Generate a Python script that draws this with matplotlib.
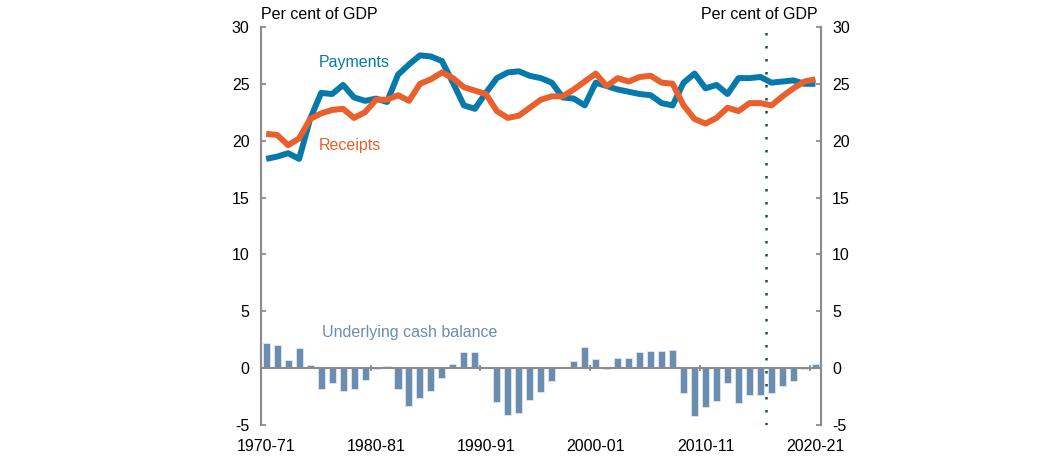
import numpy as np
import matplotlib
matplotlib.use('Agg')
import matplotlib.pyplot as plt
from matplotlib.ticker import FixedLocator, FuncFormatter

plt.rcParams['font.family'] = ['Liberation Sans', 'DejaVu Sans']

# ============================================================
# Data (per cent of GDP), 1970-71 to 2020-21
# ============================================================
years = [f"{y}-{str(y + 1)[-2:]}" for y in range(1970, 2021)]

payments = [18.4, 18.6, 18.9, 18.4, 21.9, 24.2, 24.1, 24.9, 23.8, 23.5,
            23.7, 23.4, 25.8, 26.7, 27.5, 27.4, 27.0, 25.1, 23.1, 22.8,
            24.2, 25.5, 26.0, 26.1, 25.7, 25.5, 25.1, 23.8, 23.7, 23.1,
            25.1, 24.8, 24.5, 24.3, 24.1, 24.0, 23.3, 23.1, 25.1, 25.9,
            24.6, 24.9, 24.1, 25.5, 25.5, 25.6, 25.1, 25.2, 25.3, 25.0,
            25.0]

receipts = [20.6, 20.5, 19.6, 20.2, 21.9, 22.4, 22.7, 22.8, 22.0, 22.5,
            23.6, 23.6, 24.0, 23.5, 25.0, 25.4, 26.0, 25.5, 24.7, 24.4,
            24.1, 22.6, 22.0, 22.2, 22.9, 23.6, 23.9, 23.9, 24.5, 25.2,
            25.9, 24.8, 25.5, 25.2, 25.6, 25.7, 25.1, 25.0, 23.1, 21.9,
            21.5, 22.0, 22.9, 22.6, 23.3, 23.3, 23.1, 23.9, 24.6, 25.2,
            25.4]

cash_balance = [2.2, 2.0, 0.7, 1.8, 0.3, -1.8, -1.3, -2.0, -1.8, -1.0,
                -0.1, 0.2, -1.8, -3.3, -2.6, -2.0, -0.9, 0.4, 1.4, 1.4,
                0.0, -3.0, -4.1, -3.9, -2.8, -2.1, -1.1, 0.0, 0.6, 1.9,
                0.8, -0.1, 0.9, 0.9, 1.4, 1.5, 1.5, 1.6, -2.2, -4.2,
                -3.4, -2.9, -1.3, -3.1, -2.4, -2.4, -2.2, -1.6, -1.1, -0.1,
                0.35]

label_years = ["1970-71", "1980-81", "1990-91", "2000-01", "2010-11", "2020-21"]
forecast_start = "2016-17"

# ============================================================
# Plot
# ============================================================
BLUE = "#0579a9"
ORANGE = "#e9602d"
BAR = "#6a8db0"
GREY = "#8c8c8c"
DOT = "#1f4f4b"
FS = 11.5

x = np.arange(len(years))

fig = plt.figure(figsize=(10.39, 4.61), dpi=100)
ax = fig.add_axes([0.2509, 0.078, 0.5392, 0.8636])

ax.bar(x, cash_balance, width=0.64, color=BAR, edgecolor="#dfe7ef",
       linewidth=0.6, zorder=2)
ax.axhline(0, color=GREY, lw=1.5, zorder=3)

# small ticks on the zero line at decade boundaries
for lab in label_years[1:]:
    k = years.index(lab) - 0.5
    ax.vlines(k, -0.28, 0.28, color=GREY, lw=1.3, zorder=3)

ax.plot(x, payments, color=BLUE, lw=4.3, solid_capstyle="butt", zorder=4)
ax.plot(x, receipts, color=ORANGE, lw=4.3, solid_capstyle="butt", zorder=5)

ax.axvline(years.index(forecast_start) - 0.5, color=DOT, lw=1.8,
           ls=(0, (1, 4.2)), zorder=6)

ax.text(4.77, 26.85, "Payments", color=BLUE, fontsize=FS, va="center")
ax.text(4.77, 19.55, "Receipts", color=ORANGE, fontsize=FS, va="center")
ax.text(5.05, 3.15, "Underlying cash balance", color=BAR, fontsize=FS,
        va="center")

ax.set_xlim(-0.5, len(years) - 0.5)
ax.set_ylim(-5, 30)

ax.set_xticks([years.index(lab) for lab in label_years])
ax.set_xticklabels(label_years, fontsize=FS)
ax.tick_params(axis="x", length=0, pad=10)

yt = np.arange(-5, 31, 5)
fmt = FuncFormatter(lambda v, p: f"{int(v)}")
ax.yaxis.set_major_locator(FixedLocator(yt))
ax.yaxis.set_major_formatter(fmt)
ax.tick_params(axis="y", direction="in", length=3.5, width=1.3,
               color=GREY, labelsize=FS, pad=8)

ax2 = ax.twinx()
ax2.set_ylim(-5, 30)
ax2.yaxis.set_major_locator(FixedLocator(yt))
ax2.yaxis.set_major_formatter(fmt)
ax2.tick_params(axis="y", direction="in", length=3.5, width=1.3,
                color=GREY, labelsize=FS, pad=8)

for a in (ax, ax2):
    for side in ("top", "bottom"):
        a.spines[side].set_visible(False)
    for side in ("left", "right"):
        a.spines[side].set_color(GREY)
        a.spines[side].set_linewidth(1.5)

ax.text(0.0, 1.03, "Per cent of GDP", transform=ax.transAxes, fontsize=FS,
        ha="left", va="center")
ax.text(0.995, 1.03, "Per cent of GDP", transform=ax.transAxes, fontsize=FS,
        ha="right", va="center")

fig.savefig("out.png", dpi=100)
plt.close(fig)
